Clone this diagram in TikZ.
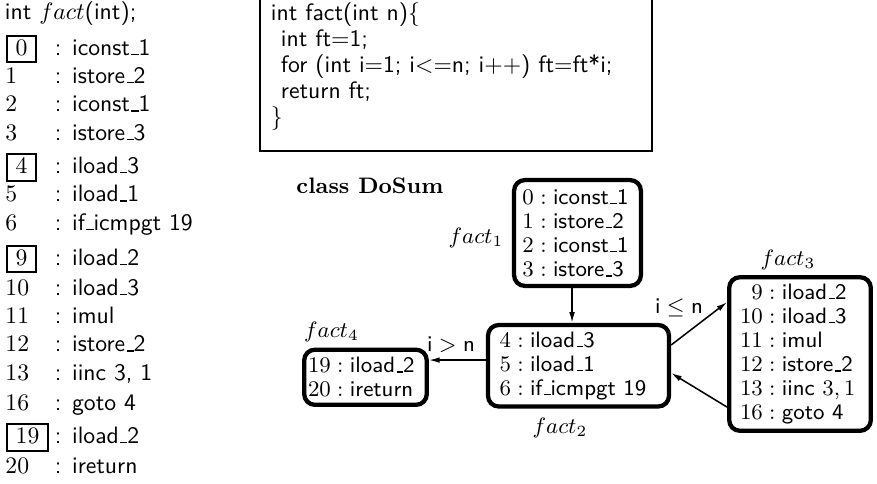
\RequirePackage{fix-cm}
\documentclass[tikz,border=0pt]{standalone}
\usetikzlibrary{arrows.meta}
\newcommand\myus{\leavevmode\kern.06em\vbox{\hrule width.3em height .6pt}}
\newcommand\lstrow[4]{%
  \node[numtxt] (n#1) at (5,#2) {$#3$};
  \node[instr] (i#1) at (54.5,#2) {: #4};}
\newcommand\lstrowbox[4]{%
  \node[numbox] (n#1) at (6.07,#2) {$#3$};
  \node[instr] (i#1) at (54.5,#2) {: #4};}
\begin{document}
\begin{tikzpicture}[x=0.4219pt,y=-0.4219pt,
  lfont/.style={font=\fontsize{10}{12}\selectfont},
  numtxt/.style={anchor=base west, inner sep=0pt, lfont},
  instr/.style={anchor=base west, inner sep=0pt, font=\fontsize{10}{12}\selectfont\sffamily},
  numbox/.style={draw, line width=0.9pt, anchor=base west, inner xsep=3.6pt, inner ysep=0pt,
     text height=8.2pt, text depth=3.13pt, lfont},
  codeln/.style={anchor=base west, inner sep=0pt, font=\fontsize{10}{11}\selectfont\sffamily},
  cfg/.style={draw, line width=1.8pt, rounded corners=4.5pt, align=left, inner ysep=0pt,
     font=\fontsize{9.4}{10.2}\selectfont\sffamily},
  cfglbl/.style={inner sep=0pt, font=\fontsize{9.4}{10.2}\selectfont\sffamily},
  arr/.style={-{Latex[length=4.5pt,width=2.4pt]}, line width=0.65pt}]
\useasboundingbox (0,0) rectangle (877,483);

% left listing
\node[instr] (head) at (4.5,19.5) {int $fact$(int);};
\lstrowbox{0}{55}{0}{iconst\myus 1}
\lstrow{1}{83.3}{1}{istore\myus 2}
\lstrow{2}{111.7}{2}{iconst\myus 1}
\lstrow{3}{140}{3}{istore\myus 3}
\lstrowbox{4}{173.3}{4}{iload\myus 3}
\lstrow{5}{201.7}{5}{iload\myus 1}
\lstrow{6}{230}{6}{if\myus icmpgt 19}
\lstrowbox{9}{265}{9}{iload\myus 2}
\lstrow{10}{295}{10}{iload\myus 3}
\lstrow{11}{323.3}{11}{imul}
\lstrow{12}{351.7}{12}{istore\myus 2}
\lstrow{13}{380}{13}{iinc 3, 1}
\lstrow{16}{410}{16}{goto 4}
\lstrowbox{19}{443.3}{19}{iload\myus 2}
\lstrow{20}{473.3}{20}{ireturn}

% source code box
\node[draw, line width=0.9pt, inner sep=0pt, minimum width=165.3pt, minimum height=90pt,
      anchor=south west] (codebox) at (259.07,151.9) {};
\node[codeln] (c1) at (270.5,20) {int fact(int n)$\{$};
\node[codeln] (c2) at (280.5,46.3) {int ft$=$1;};
\node[codeln] (c3) at (280.5,72.5) {for (int i$=$1; i$<=$n; i$++$) ft$=$ft*i;};
\node[codeln] (c4) at (280.5,98.6) {return ft;};
\node[codeln] (c5) at (270.5,124.7) {$\}$};

% control flow graph
\node[anchor=base west, inner sep=0pt, font=\fontsize{9.45}{10.2}\selectfont\bfseries] (cls) at (296,193) {class DoSum};

\node[cfg, minimum width=53.5pt, minimum height=44.64pt, inner xsep=3.54pt, text width=46.42pt]
  (f1) at (577.5,233) {$0 : \mbox{iconst\myus 1}$\\ $1 : \mbox{istore\myus 2}$\\ $2 : \mbox{iconst\myus 1}$\\ $3 : \mbox{istore\myus 3}$};
\node[cfg, minimum width=76.36pt, minimum height=34.38pt, inner xsep=4.85pt, text width=66.66pt]
  (f2) at (578.5,365.75) {$4 : \mbox{iload\myus 3}$\\ $5 : \mbox{iload\myus 1}$\\ $6 : \mbox{if\myus icmpgt 19}$};
\node[cfg, minimum width=51.72pt, minimum height=23.25pt, inner xsep=1.6pt, text width=48.52pt]
  (f4) at (365.5,377.25) {$19 : \mbox{iload\myus 2}$\\ $20 : \mbox{ireturn}$};
\node[cfg, minimum width=59.74pt, minimum height=64.8pt, inner xsep=4.56pt, text width=50.62pt]
  (f3) at (800,354) {$\phantom{1}9 : \mbox{iload\myus 2}$\\ $10 : \mbox{iload\myus 3}$\\ $11 : \mbox{imul}$\\ $12 : \mbox{istore\myus 2}$\\ $13 : \mbox{iinc }3, 1$\\ $16 : \mbox{goto 4}$};

\node[cfglbl] (l1) at (476,238) {$fact_1$};
\node[cfglbl] (l2) at (560,428) {$fact_2$};
\node[cfglbl] (l3) at (788,260) {$fact_3$};
\node[cfglbl] (l4) at (331.5,332) {$fact_4$};
\node[cfglbl] (gt) at (451,345) {$\mbox{i} > \mbox{n}$};
\node[cfglbl] (le) at (679,308) {$\mbox{i} \leq \mbox{n}$};

\draw[arr] ([xshift=-2.3pt]f1.south) -- ([xshift=-2.3pt]f1.south |- f2.north);
\draw[arr] ([yshift=2.4pt]f2.west) -- ([yshift=2.4pt]f2.west -| f4.east);
\draw[arr] ([yshift=8.75pt]f2.east) -- ([yshift=21.9pt]f3.west);
\draw[arr] ([yshift=-22.4pt]f3.west) -- ([yshift=-3.06pt]f2.east);
\end{tikzpicture}
\end{document}
